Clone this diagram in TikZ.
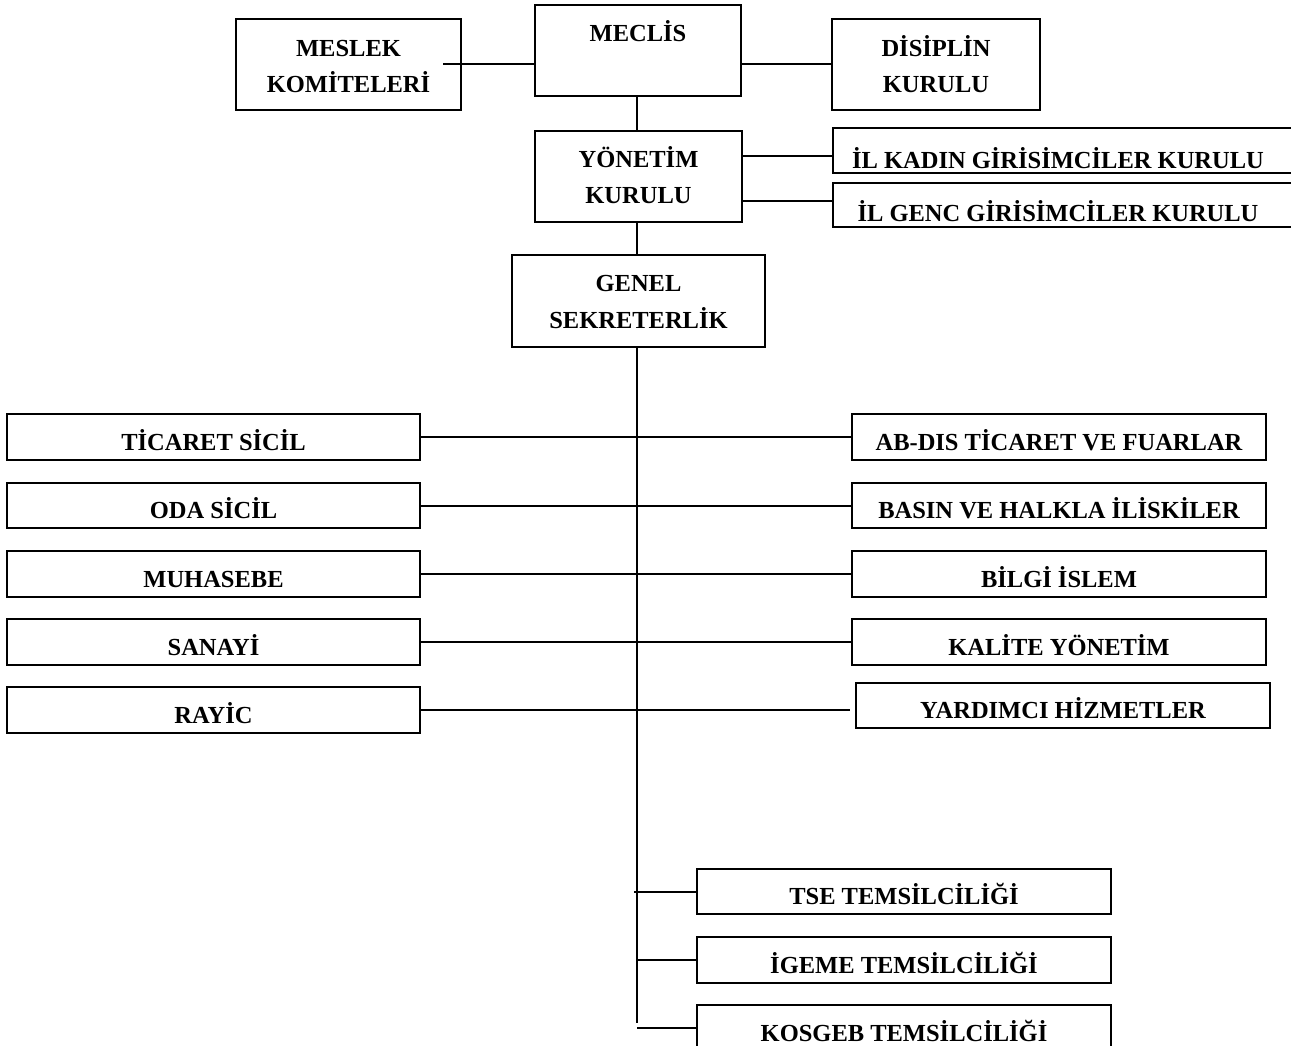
\documentclass[tikz,border=0pt]{standalone}
\usepackage{fontspec}
\setmainfont{Liberation Serif}
\begin{document}
\tikzset{
  bx/.style={draw, line width=2pt, inner sep=0pt, outer sep=0pt, rectangle},
  lbl/.style={font=\bfseries\fontsize{24.5}{36.5}\selectfont, inner sep=0pt, align=center},
  ln/.style={line width=2pt},
}
% name, x1, y1, x2, y2, text x, baseline y (last line), text
\newcommand\obox[8]{%
  \node[bx, minimum width={(#4)-(#2)}, minimum height={(#5)-(#3)}] (#1) at ({((#2)+(#4))/2},{((#3)+(#5))/2}) {};
  \node[lbl, anchor=base] (#1-t) at (#6,#7) {#8};
}
\begin{tikzpicture}[x=1pt, y=-1pt]
\clip (0,0) rectangle (1291,1046);
\fill[white] (0,0) rectangle (1291,1046);
% top
\obox{meclis}{535}{5}{741}{96}{638}{42}{MECLİS}
\obox{meslek}{236}{19}{461}{110}{348.5}{93}{MESLEK\\KOMİTELERİ}
\obox{disiplin}{832}{19}{1040}{110}{936}{93}{DİSİPLİN\\KURULU}
\obox{yonetim}{535}{131}{742}{222}{638.5}{204}{YÖNETİM\\KURULU}
\obox{genel}{512}{255}{765}{347}{638.5}{328}{GENEL\\SEKRETERLİK}
\obox{kadin}{833}{128}{1310}{173}{1058}{169}{İL KADIN GİRİSİMCİLER KURULU}
\obox{genc}{833}{183}{1310}{227}{1058}{221}{İL GENC GİRİSİMCİLER KURULU}
% left column
\obox{ticaret}{7}{414}{420}{460}{213.5}{450}{TİCARET SİCİL}
\obox{oda}{7}{483}{420}{528}{213.5}{518}{ODA SİCİL}
\obox{muhasebe}{7}{551}{420}{597}{213.5}{587}{MUHASEBE}
\obox{sanayi}{7}{619}{420}{665}{213.5}{655}{SANAYİ}
\obox{rayic}{7}{687}{420}{733}{213.5}{723}{RAYİC}
% right column
\obox{abdis}{852}{414}{1266}{460}{1059}{450}{AB-DIS TİCARET VE FUARLAR}
\obox{basin}{852}{483}{1266}{528}{1059}{518}{BASIN VE HALKLA İLİSKİLER}
\obox{bilgi}{852}{551}{1266}{597}{1059}{587}{BİLGİ İSLEM}
\obox{kalite}{852}{619}{1266}{665}{1059}{655}{KALİTE YÖNETİM}
\obox{yardimci}{856}{683}{1270}{728}{1063}{718}{YARDIMCI HİZMETLER}
% bottom
\obox{tse}{697}{869}{1111}{914}{904}{904}{TSE TEMSİLCİLİĞİ}
\obox{igeme}{697}{937}{1111}{983}{904}{973}{İGEME TEMSİLCİLİĞİ}
\obox{kosgeb}{697}{1005}{1111}{1051}{904}{1041}{KOSGEB TEMSİLCİLİĞİ}
% connectors
\coordinate (trunkend) at (637,1023);
\draw[ln] ([xshift=-18pt]meslek.east) -- (meclis.west |- meslek.east);
\draw[ln] (meclis.east |- disiplin.west) -- (disiplin.west);
\draw[ln] (meclis.south -| trunkend) -- (yonetim.north -| trunkend);
\draw[ln] (yonetim.south -| trunkend) -- (genel.north -| trunkend);
\draw[ln] (genel.south -| trunkend) -- (trunkend);
\draw[ln] ([yshift=-5.5pt]yonetim.east |- kadin.west) -- ([yshift=-5.5pt]kadin.west);
\draw[ln] ([yshift=4pt]yonetim.east |- genc.west) -- ([yshift=4pt]genc.west);
\draw[ln] (ticaret.east) -- (abdis.west);
\draw[ln] (oda.east) -- (basin.west);
\draw[ln] (muhasebe.east) -- (bilgi.west);
\draw[ln] (sanayi.east) -- (kalite.west);
\draw[ln] (rayic.east) -- ([xshift=-6pt]yardimci.west |- rayic.east);
\draw[ln] ([xshift=-3pt]tse.west -| trunkend) -- (tse.west);
\draw[ln] (igeme.west -| trunkend) -- (igeme.west);
\draw[ln] (kosgeb.west -| trunkend) -- (kosgeb.west);
\end{tikzpicture}
\end{document}
